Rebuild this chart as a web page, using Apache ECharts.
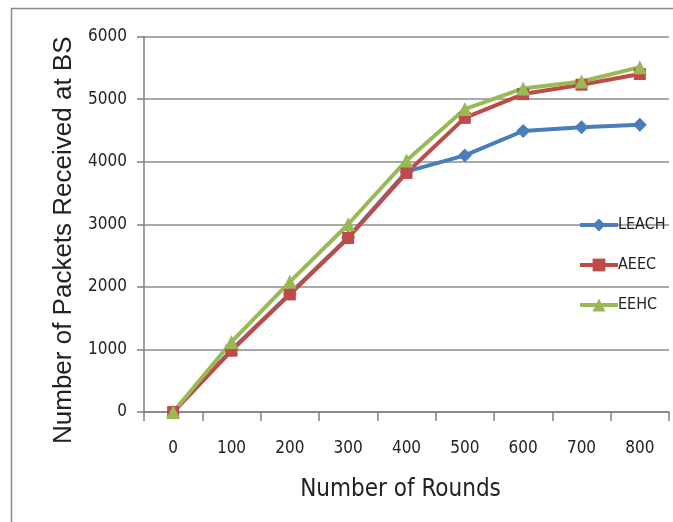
<!DOCTYPE html>
<html>
<head>
<meta charset="utf-8">
<script src="https://cdn.jsdelivr.net/npm/echarts@6/dist/echarts.min.js"></script>
<style>html,body{margin:0;padding:0;background:#fff}#c{width:673px;height:522px}</style>
</head>
<body>
<div id="c"></div>
<script>
const rounds = ['0', '100', '200', '300', '400', '500', '600', '700', '800'];
const leach = [0, 990, 1890, 2790, 3840, 4100, 4490, 4550, 4590];
const aeec  = [0, 980, 1880, 2780, 3820, 4700, 5080, 5230, 5400];
const eehc  = [0, 1120, 2080, 3000, 4020, 4840, 5170, 5280, 5510];
const yTicks = { min: 0, max: 6000, interval: 1000 };

const narrow = "'Liberation Sans Narrow', 'DejaVu Sans Condensed', 'Liberation Sans', sans-serif";
const chart = echarts.init(document.getElementById('c'), null, { renderer: 'canvas' });

function mk(name, data, color, symbol, size) {
  return {
    name, type: 'line', data, symbol, symbolSize: size,
    lineStyle: { color, width: 4 },
    itemStyle: { color },
    emphasis: { disabled: true },
    animation: false
  };
}

chart.setOption({
  animation: false,
  graphic: [{
    type: 'rect', shape: { x: 11.5, y: 8.5, width: 700, height: 600 },
    style: { fill: 'none', stroke: '#8a8a8a', lineWidth: 1.5 }, silent: true
  }],
  grid: { left: 144, right: 4, top: 36.5, bottom: 110, containLabel: false },
  legend: {
    orient: 'vertical', left: 573, top: 212, itemWidth: 38, itemHeight: 16, itemGap: 24,
    lineStyle: { width: 4 },
    textStyle: { fontFamily: narrow, fontSize: 16, color: '#222', padding: [0, 0, 0, -5] },
    data: ['LEACH', 'AEEC', 'EEHC']
  },
  xAxis: {
    type: 'category', data: rounds, boundaryGap: true,
    name: 'Number of Rounds', nameLocation: 'middle', nameGap: 66,
    nameTextStyle: { fontFamily: narrow, fontSize: 24, color: '#222', padding: [0, 12, 0, 0] },
    axisLine: { lineStyle: { color: '#808080', width: 1.5 } },
    axisTick: { show: true, length: 9, lineStyle: { color: '#808080', width: 1.5 } },
    axisLabel: { fontFamily: narrow, fontSize: 17, color: '#222', margin: 28 }
  },
  yAxis: {
    type: 'value', min: yTicks.min, max: yTicks.max, interval: yTicks.interval,
    name: 'Number of Packets Received at BS', nameLocation: 'middle', nameGap: 64,
    nameTextStyle: { fontFamily: "'Liberation Sans', Arial, sans-serif", fontSize: 26, color: '#222', padding: [0, 32, 0, 0] },
    axisLine: { show: true, lineStyle: { color: '#808080', width: 1.5 } },
    axisTick: { show: true, length: 7, lineStyle: { color: '#808080', width: 1.5 } },
    splitLine: { lineStyle: { color: '#8c8c8c', width: 1.5 } },
    axisLabel: { fontFamily: narrow, fontSize: 17, color: '#222', margin: 17, formatter: v => String(v) }
  },
  series: [
    mk('LEACH', leach, '#4A7EBB', 'diamond', 14),
    mk('AEEC', aeec, '#BE4B48', 'rect', 12),
    mk('EEHC', eehc, '#98B954', 'triangle', 14)
  ]
});
</script>
</body>
</html>
